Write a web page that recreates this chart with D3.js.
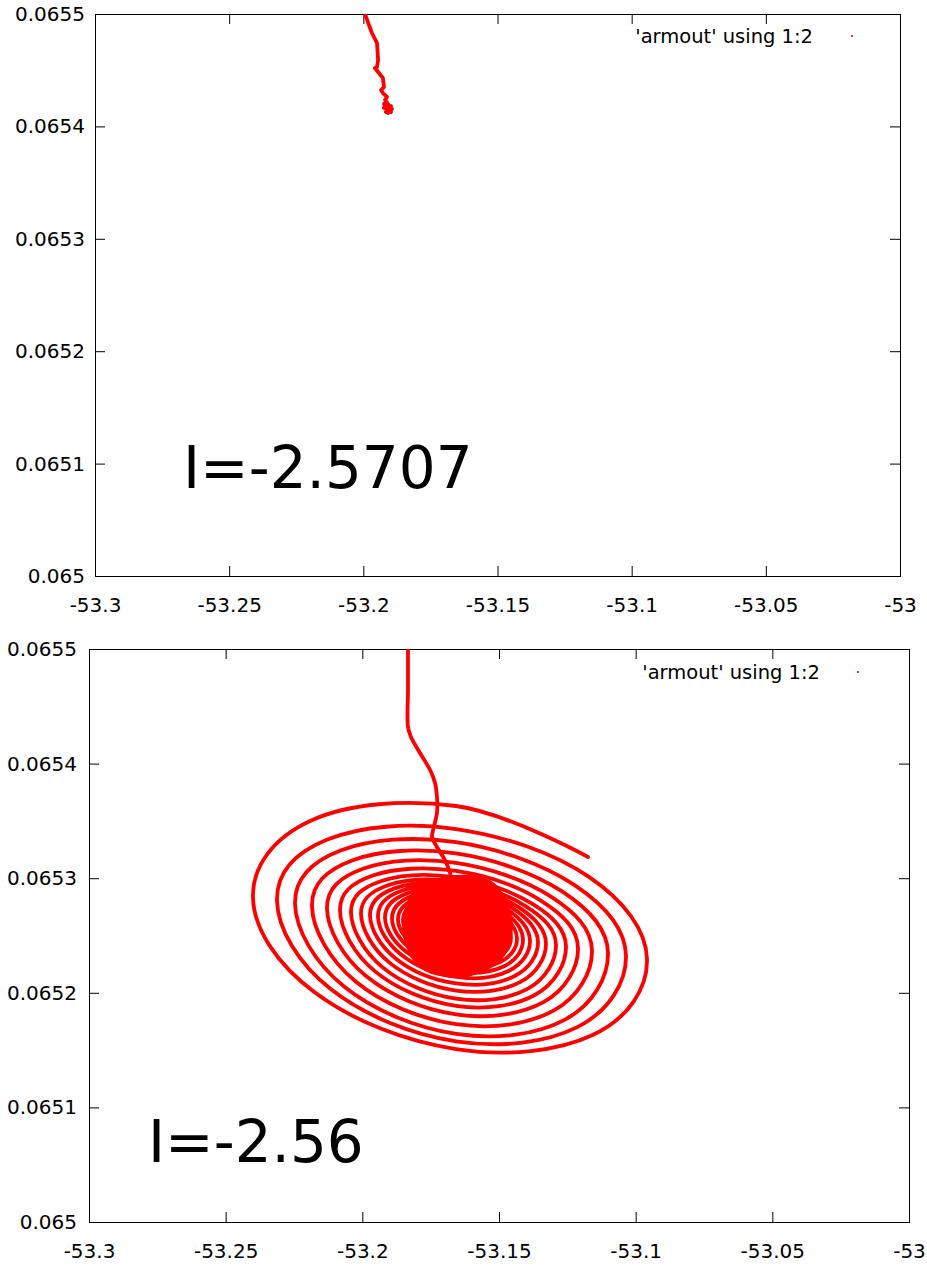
<!DOCTYPE html>
<html><head><meta charset="utf-8">
<script src="https://cdn.jsdelivr.net/npm/d3@7"></script>
<style>
body{margin:0;background:#fff}
svg{display:block}
text{font-family:"DejaVu Sans",sans-serif;fill:#000}
</style>
</head><body>
<svg id="c" width="927" height="1270"></svg>
<script>
// ---------- data ----------
const xDomain = [-53.3, -53];
const yDomain = [0.065, 0.0655];
const xTicks = [-53.3, -53.25, -53.2, -53.15, -53.1, -53.05, -53];
const xTickLabels = ["-53.3", "-53.25", "-53.2", "-53.15", "-53.1", "-53.05", "-53"];
const yTicks = [0.065, 0.0651, 0.0652, 0.0653, 0.0654, 0.0655];
const yTickLabels = ["0.065", "0.0651", "0.0652", "0.0653", "0.0654", "0.0655"];
const panelLabels = ["I=-2.5707", "I=-2.56"];
const legendLabel = "'armout' using 1:2";

// top panel trajectory (I=-2.5707)
const topX = [-53.1994, -53.1986, -53.1968, -53.1949, -53.1945, -53.1949, -53.1957, -53.1945, -53.1927, -53.1923,
              -53.1934, -53.1927, -53.1912, -53.1919, -53.1908, -53.1923, -53.1901, -53.1916, -53.1897, -53.1908,
              -53.1904, -53.1923, -53.1897, -53.1916, -53.1893];
const topY = [0.0655000, 0.0654947, 0.0654831, 0.0654742, 0.0654591, 0.0654528, 0.0654520, 0.0654484, 0.0654431, 0.0654350,
              0.0654324, 0.0654297, 0.0654262, 0.0654235, 0.0654199, 0.0654164, 0.0654146, 0.0654128, 0.0654181, 0.0654119,
              0.0654181, 0.0654199, 0.0654128, 0.0654155, 0.0654155];

// bottom panel: approach from the top edge into the focus (I=-2.56)
const approachX = [-53.1833, -53.1833, -53.1833, -53.1822, -53.1789, -53.1752, -53.1734, -53.1727, -53.1727, -53.1741,
                   -53.1745, -53.1727, -53.1698, -53.1679, -53.1665, -53.1657];
const approachY = [0.0655000, 0.0654642, 0.0654319, 0.0654232, 0.0654092, 0.0653944, 0.0653831, 0.0653709, 0.0653569, 0.0653421,
                   0.0653360, 0.0653272, 0.0653159, 0.0653045, 0.0652853, 0.0652635];

// bottom panel: dense core of the focus (outline of the solid region)
const coreX = [-53.18512, -53.18037, -53.16610, -53.15183, -53.14524, -53.14963, -53.16500, -53.17963];
const coreY = [0.0652592, 0.0652897, 0.0653019, 0.0652949, 0.0652592, 0.0652286, 0.0652138, 0.0652243];

// bottom panel: spiral, eighth-turn samples from the inside out
const spiralX = [
  -53.14744, -53.15260, -53.16573, -53.17925, -53.18512, -53.17957, -53.16573, -53.15163,
  -53.14561, -53.15131, -53.16573, -53.18054, -53.18695, -53.18093, -53.16573, -53.15015,
  -53.14342, -53.14976, -53.16573, -53.18209, -53.18915, -53.18248, -53.16573, -53.14860,
  -53.14122, -53.14814, -53.16573, -53.18384, -53.19171, -53.18429, -53.16573, -53.14678,
  -53.13866, -53.14633, -53.16573, -53.18565, -53.19427, -53.18617, -53.16573, -53.14478,
  -53.13573, -53.14426, -53.16573, -53.18772, -53.19720, -53.18824, -53.16573, -53.14271,
  -53.13281, -53.14213, -53.16573, -53.18998, -53.20049, -53.19063, -53.16573, -53.14019,
  -53.12915, -53.13954, -53.16573, -53.19257, -53.20415, -53.19322, -53.16573, -53.13760,
  -53.12549, -53.13689, -53.16573, -53.19535, -53.20817, -53.19613, -53.16573, -53.13456,
  -53.12110, -53.13372, -53.16573, -53.19865, -53.21293, -53.19956, -53.16573, -53.13100,
  -53.11598, -53.13003, -53.16573, -53.20247, -53.21842, -53.20350, -53.16573, -53.12693,
  -53.11012, -53.12583, -53.16573, -53.20680, -53.22463, -53.20796, -53.16573, -53.12233,
  -53.10354, -53.12117, -53.16573, -53.21146, -53.23122, -53.21281, -53.16573, -53.11710,
  -53.09585, -53.11554, -53.16573, -53.21747, -53.24000, -53.21851, -53.16573, -53.11744];
const spiralY = [
  0.0652488, 0.0652325, 0.0652295, 0.0652419, 0.0652629, 0.0652795, 0.0652822, 0.0652693,
  0.0652481, 0.0652299, 0.0652264, 0.0652402, 0.0652636, 0.0652815, 0.0652844, 0.0652703,
  0.0652473, 0.0652267, 0.0652227, 0.0652381, 0.0652644, 0.0652837, 0.0652867, 0.0652714,
  0.0652465, 0.0652232, 0.0652185, 0.0652357, 0.0652654, 0.0652861, 0.0652892, 0.0652724,
  0.0652455, 0.0652193, 0.0652138, 0.0652330, 0.0652664, 0.0652886, 0.0652917, 0.0652735,
  0.0652444, 0.0652146, 0.0652082, 0.0652298, 0.0652675, 0.0652911, 0.0652942, 0.0652745,
  0.0652433, 0.0652095, 0.0652020, 0.0652261, 0.0652687, 0.0652939, 0.0652969, 0.0652755,
  0.0652420, 0.0652034, 0.0651949, 0.0652222, 0.0652701, 0.0652974, 0.0653007, 0.0652773,
  0.0652406, 0.0651981, 0.0651886, 0.0652187, 0.0652716, 0.0653023, 0.0653063, 0.0652803,
  0.0652390, 0.0651918, 0.0651812, 0.0652146, 0.0652733, 0.0653084, 0.0653133, 0.0652840,
  0.0652370, 0.0651844, 0.0651726, 0.0652099, 0.0652754, 0.0653157, 0.0653216, 0.0652885,
  0.0652349, 0.0651766, 0.0651641, 0.0652057, 0.0652777, 0.0653241, 0.0653314, 0.0652939,
  0.0652324, 0.0651703, 0.0651577, 0.0652030, 0.0652802, 0.0653337, 0.0653429, 0.0653011,
  0.0652295, 0.0651634, 0.0651509, 0.0652004, 0.0652835, 0.0653506, 0.0653630, 0.0653185];

// ---------- drawing ----------
const svg = d3.select("#c");
const RED = "#ff0000";
const zip = (xs, ys) => xs.map((v, i) => [v, ys[i]]);
// cardinal tension tuned for samples one eighth of a turn apart
const spiralCurve = d3.curveCardinal.tension(-0.11);

const panels = [
  {x0: 95, x1: 900, y0: 14, y1: 576, label: panelLabels[0], lx: 183, ly: 488, legX: 813, legY: 36, dotX: 852,
   yPad: 10,
   lines: [{pts: zip(topX, topY), curve: d3.curveLinear}], fills: []},
  {x0: 89, x1: 909, y0: 649, y1: 1222, label: panelLabels[1], lx: 148, ly: 1162, legX: 820, legY: 672, dotX: 858,
   yPad: 12,
   lines: [{pts: zip(approachX, approachY), curve: d3.curveCatmullRom},
           {pts: zip(spiralX, spiralY), curve: spiralCurve}],
   fills: [{pts: zip(coreX, coreY), curve: d3.curveCatmullRomClosed}]}
];

panels.forEach((p, pi) => {
  const x = d3.scaleLinear().domain(xDomain).range([p.x0, p.x1]);
  const y = d3.scaleLinear().domain(yDomain).range([p.y1, p.y0]);
  const g = svg.append("g");

  const clipId = "clip" + pi;
  g.append("clipPath").attr("id", clipId).append("rect")
    .attr("x", p.x0).attr("y", p.y0).attr("width", p.x1 - p.x0).attr("height", p.y1 - p.y0);

  const styleAxis = (sel, withLabels) => {
    sel.select(".domain").remove();
    sel.selectAll(".tick line").attr("stroke", "#000").attr("stroke-width", 1);
    sel.selectAll(".tick text").attr("font-size", 20).attr("fill", "#000")
      .style("font-family", "'DejaVu Sans', sans-serif");
    if (!withLabels) sel.selectAll(".tick text").remove();
  };

  g.append("g").attr("transform", `translate(0,${p.y1})`)
    .call(d3.axisBottom(x).tickValues(xTicks).tickSize(-10).tickPadding(22)
      .tickFormat((d, i) => xTickLabels[i]))
    .call(s => styleAxis(s, true));
  g.append("g").attr("transform", `translate(0,${p.y0})`)
    .call(d3.axisTop(x).tickValues(xTicks).tickSize(-10))
    .call(s => styleAxis(s, false));
  g.append("g").attr("transform", `translate(${p.x0},0)`)
    .call(d3.axisLeft(y).tickValues(yTicks).tickSize(-10).tickPadding(p.yPad)
      .tickFormat((d, i) => yTickLabels[i]))
    .call(s => styleAxis(s, true));
  g.append("g").attr("transform", `translate(${p.x1},0)`)
    .call(d3.axisRight(y).tickValues(yTicks).tickSize(-10))
    .call(s => styleAxis(s, false));

  g.append("rect").attr("x", p.x0 + 0.5).attr("y", p.y0 + 0.5)
    .attr("width", p.x1 - p.x0).attr("height", p.y1 - p.y0)
    .attr("fill", "none").attr("stroke", "#000").attr("stroke-width", 1);

  const plot = g.append("g").attr("clip-path", `url(#${clipId})`);
  p.fills.forEach(f => {
    plot.append("path").datum(f.pts)
      .attr("d", d3.line().x(d => x(d[0])).y(d => y(d[1])).curve(f.curve))
      .attr("fill", RED).attr("stroke", RED).attr("stroke-width", 2);
  });
  p.lines.forEach(l => {
    plot.append("path").datum(l.pts)
      .attr("d", d3.line().x(d => x(d[0])).y(d => y(d[1])).curve(l.curve))
      .attr("fill", "none").attr("stroke", RED).attr("stroke-width", 3.8)
      .attr("stroke-linejoin", "round").attr("stroke-linecap", "round");
  });

  // legend
  g.append("text").attr("x", p.legX).attr("y", p.legY).attr("dy", "0.35em")
    .attr("text-anchor", "end").attr("font-size", 19.5).text(legendLabel);
  g.append("circle").attr("cx", p.dotX).attr("cy", p.legY).attr("r", 1.1).attr("fill", RED);

  // big label
  g.append("text").attr("x", p.lx).attr("y", p.ly).attr("font-size", 58).text(p.label);
});
</script>
</body></html>
